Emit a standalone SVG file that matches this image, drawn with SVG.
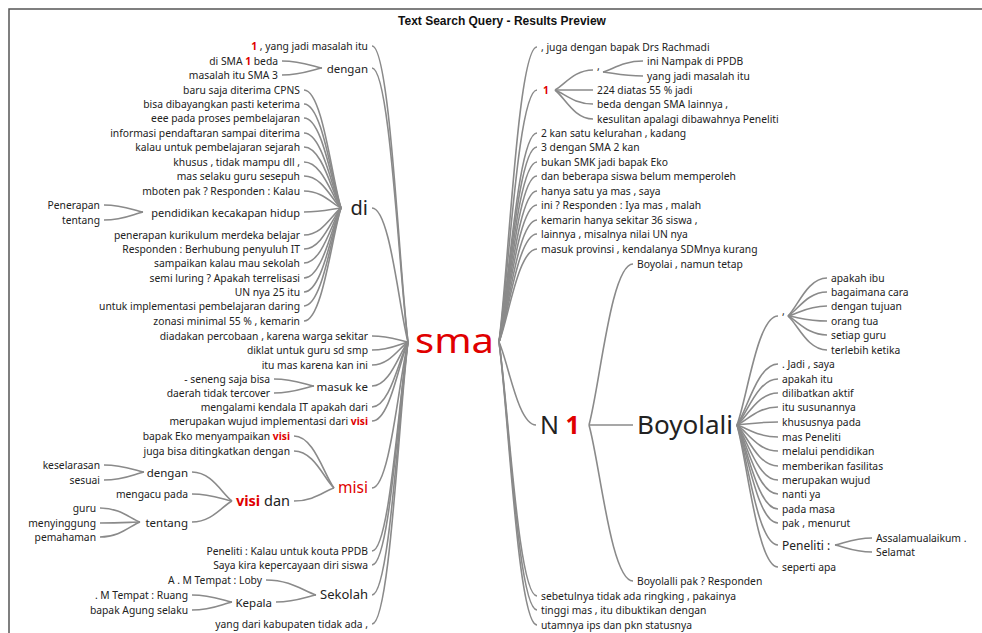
<svg xmlns="http://www.w3.org/2000/svg" width="982" height="633" viewBox="0 0 982 633">
<style>
text{font-family:"Noto Sans","Open Sans",sans-serif;fill:#222;dominant-baseline:central}
.t{font-size:10.3px}
.m{font-size:11.5px}
.e{text-anchor:end}
.r{fill:#e00000;font-weight:bold}
.red{fill:#e00000}
.c path{fill:none;stroke:#8a8a8a;stroke-width:1.6}
.title{font-family:"Liberation Sans",Arial,sans-serif;font-weight:bold;font-size:12px;text-anchor:middle;fill:#111}
</style>
<rect width="982" height="633" fill="#fff"/>
<path d="M9,633 V9 H982" fill="none" stroke="#555" stroke-width="1.5"/>
<text class="title" x="502" y="21">Text Search Query - Results Preview</text>

<g id="connectors" class="c">
<!-- root left -->
<path d="M372,46 C390,46 399,268 408,342"/>
<path d="M372,68 C390,68 399,273.5 408,342"/>
<path d="M372,208 C390,208 399,308.5 408,342"/>
<path d="M372,336 C390,336 399,340.5 408,342"/>
<path d="M372,350 C390,350 399,344 408,342"/>
<path d="M372,365 C390,365 399,347.8 408,342"/>
<path d="M372,386 C390,386 399,353 408,342"/>
<path d="M372,407 C390,407 399,358.3 408,342"/>
<path d="M372,421 C390,421 399,361.8 408,342"/>
<path d="M372,488 C390,488 399,378.5 408,342"/>
<path d="M372,551 C390,551 399,394.3 408,342"/>
<path d="M372,565 C390,565 399,397.8 408,342"/>
<path d="M372,595 C390,595 399,405.3 408,342"/>
<path d="M372,624 C390,624 399,412.5 408,342"/>
<!-- dengan (top) -->
<path d="M282,61 C302,61 312,66.2 322,68"/>
<path d="M282,75 C302,75 312,69.8 322,68"/>
<!-- di -->
<path d="M304,90 C322.5,90 331.8,178.5 341,208"/>
<path d="M304,104 C322.5,104 331.8,182 341,208"/>
<path d="M304,118 C322.5,118 331.8,185.5 341,208"/>
<path d="M304,133 C322.5,133 331.8,189.2 341,208"/>
<path d="M304,147 C322.5,147 331.8,192.8 341,208"/>
<path d="M304,162 C322.5,162 331.8,196.5 341,208"/>
<path d="M304,176 C322.5,176 331.8,200 341,208"/>
<path d="M304,191 C322.5,191 331.8,203.8 341,208"/>
<path d="M304,212 C322.5,212 331.8,209 341,208"/>
<path d="M304,235 C322.5,235 331.8,214.8 341,208"/>
<path d="M304,249 C322.5,249 331.8,218.2 341,208"/>
<path d="M304,263 C322.5,263 331.8,221.8 341,208"/>
<path d="M304,278 C322.5,278 331.8,225.5 341,208"/>
<path d="M304,292 C322.5,292 331.8,229 341,208"/>
<path d="M304,306 C322.5,306 331.8,232.5 341,208"/>
<path d="M304,321 C322.5,321 331.8,236.2 341,208"/>
<!-- pendidikan kecakapan hidup -->
<path d="M104,205 C123.5,205 133.2,210.2 143,212"/>
<path d="M104,220 C123.5,220 133.2,214 143,212"/>
<!-- masuk ke -->
<path d="M274,379 C294,379 304,384.2 314,386"/>
<path d="M274,393 C294,393 304,387.8 314,386"/>
<!-- misi -->
<path d="M294,436 C314,436 324,475 334,488"/>
<path d="M294,451 C314,451 324,478.8 334,488"/>
<path d="M294,501 C314,501 324,491.2 334,488"/>
<!-- visi dan -->
<path d="M192,472 C212,472 222,493.8 232,501"/>
<path d="M192,494 C212,494 222,499.2 232,501"/>
<path d="M192,522 C212,522 222,506.2 232,501"/>
<!-- dengan (lower) -->
<path d="M104,465 C124,465 134,470.2 144,472"/>
<path d="M104,480 C124,480 134,474 144,472"/>
<!-- tentang -->
<path d="M100,508 C120,508 130,518.5 140,522"/>
<path d="M100,523 C120,523 130,522.2 140,522"/>
<path d="M100,537 C120,537 130,525.8 140,522"/>
<!-- Sekolah -->
<path d="M266,580 C291,580 303.5,591.2 316,595"/>
<path d="M276,602 C296,602 306,596.8 316,595"/>
<!-- Kepala -->
<path d="M192,595 C212,595 222,600.2 232,602"/>
<path d="M192,610 C212,610 222,604 232,602"/>
<!-- root right -->
<path d="M537,47 C518,47 508.5,268.2 499,342"/>
<path d="M537,90 C518,90 508.5,279 499,342"/>
<path d="M537,133 C518,133 508.5,289.8 499,342"/>
<path d="M537,147 C518,147 508.5,293.2 499,342"/>
<path d="M537,162 C518,162 508.5,297 499,342"/>
<path d="M537,176 C518,176 508.5,300.5 499,342"/>
<path d="M537,191 C518,191 508.5,304.2 499,342"/>
<path d="M537,205 C518,205 508.5,307.8 499,342"/>
<path d="M537,220 C518,220 508.5,311.5 499,342"/>
<path d="M537,234 C518,234 508.5,315 499,342"/>
<path d="M537,249 C518,249 508.5,318.8 499,342"/>
<path d="M536,425 C518,425 508.5,362.8 499,342"/>
<path d="M537,596 C518,596 508.5,405.5 499,342"/>
<path d="M537,610 C518,610 508.5,409 499,342"/>
<path d="M537,625 C518,625 508.5,412.8 499,342"/>
<!-- 1 -->
<path d="M593,70 C574,70 564.5,85 555,90"/>
<path d="M593,90 C574,90 564.5,90 555,90"/>
<path d="M593,104 C574,104 564.5,93.5 555,90"/>
<path d="M593,119 C574,119 564.5,97.2 555,90"/>
<!-- comma under 1 -->
<path d="M643,61 C623,61 613,69.2 603,72"/>
<path d="M643,76 C623,76 613,73 603,72"/>
<!-- N 1 -->
<path d="M633,264 C611,264 600,384.8 589,425"/>
<path d="M633,425 C611,425 600,425 589,425"/>
<path d="M633,581 C611,581 600,464 589,425"/>
<!-- Boyolali -->
<path d="M778,316 C757.5,316 747.2,397.8 737,425"/>
<path d="M778,364 C757.5,364 747.2,409.8 737,425"/>
<path d="M778,379 C757.5,379 747.2,413.5 737,425"/>
<path d="M778,393 C757.5,393 747.2,417 737,425"/>
<path d="M778,407 C757.5,407 747.2,420.5 737,425"/>
<path d="M778,422 C757.5,422 747.2,424.2 737,425"/>
<path d="M778,437 C757.5,437 747.2,428 737,425"/>
<path d="M778,451 C757.5,451 747.2,431.5 737,425"/>
<path d="M778,466 C757.5,466 747.2,435.2 737,425"/>
<path d="M778,480 C757.5,480 747.2,438.8 737,425"/>
<path d="M778,494 C757.5,494 747.2,442.2 737,425"/>
<path d="M778,509 C757.5,509 747.2,446 737,425"/>
<path d="M778,523 C757.5,523 747.2,449.5 737,425"/>
<path d="M778,545 C757.5,545 747.2,455 737,425"/>
<path d="M778,567 C757.5,567 747.2,460.5 737,425"/>
<!-- comma under Boyolali -->
<path d="M827,278 C807.5,278 797.8,306.5 788,316"/>
<path d="M827,292 C807.5,292 797.8,310 788,316"/>
<path d="M827,306 C807.5,306 797.8,313.5 788,316"/>
<path d="M827,321 C807.5,321 797.8,317.2 788,316"/>
<path d="M827,335 C807.5,335 797.8,320.8 788,316"/>
<path d="M827,350 C807.5,350 797.8,324.5 788,316"/>
<!-- Peneliti : -->
<path d="M872,538 C853.5,538 844.2,543.2 835,545"/>
<path d="M872,552 C853.5,552 844.2,546.8 835,545"/>
</g>

<!-- root -->
<g id="n-sma"><text x="415" y="340" font-size="34" class="red" textLength="79" lengthAdjust="spacingAndGlyphs">sma</text></g>

<!-- left side -->
<g id="n-l-1yang"><text class="t e" x="368" y="46"><tspan class="r">1</tspan> , yang jadi masalah itu</text></g>
<g id="n-l-dengan1"><text class="m e" x="368" y="68">dengan</text></g>
<g id="n-l-dismabeda"><text class="t e" x="278" y="61">di SMA <tspan class="r">1</tspan> beda</text></g>
<g id="n-l-masalahsma3"><text class="t e" x="278" y="75">masalah itu SMA 3</text></g>
<g id="n-l-di"><text class="e" x="368" y="207" font-size="20">di</text></g>
<g id="n-l-di-children">
<text class="t e" x="300" y="90">baru saja diterima CPNS</text>
<text class="t e" x="300" y="104">bisa dibayangkan pasti keterima</text>
<text class="t e" x="300" y="118">eee pada proses pembelajaran</text>
<text class="t e" x="300" y="133">informasi pendaftaran sampai diterima</text>
<text class="t e" x="300" y="147">kalau untuk pembelajaran sejarah</text>
<text class="t e" x="300" y="162">khusus , tidak mampu dll ,</text>
<text class="t e" x="300" y="176">mas selaku guru sesepuh</text>
<text class="t e" x="300" y="191">mboten pak ? Responden : Kalau</text>
<text class="t e" x="300" y="235">penerapan kurikulum merdeka belajar</text>
<text class="t e" x="300" y="249">Responden : Berhubung penyuluh IT</text>
<text class="t e" x="300" y="263">sampaikan kalau mau sekolah</text>
<text class="t e" x="300" y="278">semi luring ? Apakah terrelisasi</text>
<text class="t e" x="300" y="292">UN nya 25 itu</text>
<text class="t e" x="300" y="306">untuk implementasi pembelajaran daring</text>
<text class="t e" x="300" y="321">zonasi minimal 55 % , kemarin</text>
</g>
<g id="n-l-pendidikan"><text class="e" x="300" y="212" font-size="11">pendidikan kecakapan hidup</text></g>
<g id="n-l-penerapan"><text class="t e" x="100" y="205">Penerapan</text></g>
<g id="n-l-tentang1"><text class="t e" x="100" y="220">tentang</text></g>
<g id="n-l-leaves-mid">
<text class="t e" x="368" y="336">diadakan percobaan , karena warga sekitar</text>
<text class="t e" x="368" y="350">diklat untuk guru sd smp</text>
<text class="t e" x="368" y="365">itu mas karena kan ini</text>
<text class="t e" x="368" y="407">mengalami kendala IT apakah dari</text>
<text class="t e" x="368" y="421">merupakan wujud implementasi dari <tspan class="r">visi</tspan></text>
</g>
<g id="n-l-masukke"><text class="m e" x="368" y="386">masuk ke</text></g>
<g id="n-l-seneng"><text class="t e" x="270" y="379">- seneng saja bisa</text></g>
<g id="n-l-daerah"><text class="t e" x="270" y="393">daerah tidak tercover</text></g>
<g id="n-l-misi"><text class="e red" x="368" y="487" font-size="15.5">misi</text></g>
<g id="n-l-bapakeko"><text class="t e" x="290" y="436">bapak Eko menyampaikan <tspan class="r">visi</tspan></text></g>
<g id="n-l-juga"><text class="t e" x="290" y="451">juga bisa ditingkatkan dengan</text></g>
<g id="n-l-visidan"><text class="e" x="290" y="500" font-size="14.5"><tspan class="r">visi</tspan> dan</text></g>
<g id="n-l-dengan2"><text class="m e" x="188" y="472">dengan</text></g>
<g id="n-l-keselarasan"><text class="t e" x="100" y="465">keselarasan</text></g>
<g id="n-l-sesuai"><text class="t e" x="100" y="480">sesuai</text></g>
<g id="n-l-mengacu"><text class="t e" x="188" y="494">mengacu pada</text></g>
<g id="n-l-tentang2"><text class="m e" x="188" y="522">tentang</text></g>
<g id="n-l-guru"><text class="t e" x="96" y="508">guru</text></g>
<g id="n-l-menyinggung"><text class="t e" x="96" y="523">menyinggung</text></g>
<g id="n-l-pemahaman"><text class="t e" x="96" y="537">pemahaman</text></g>
<g id="n-l-peneliti"><text class="t e" x="368" y="551">Peneliti : Kalau untuk kouta PPDB</text></g>
<g id="n-l-saya"><text class="t e" x="368" y="565">Saya kira kepercayaan diri siswa</text></g>
<g id="n-l-sekolah"><text class="e" x="368" y="594" font-size="13">Sekolah</text></g>
<g id="n-l-loby"><text class="t e" x="262" y="580">A . M Tempat : Loby</text></g>
<g id="n-l-kepala"><text class="m e" x="272" y="602">Kepala</text></g>
<g id="n-l-ruang"><text class="t e" x="188" y="595">. M Tempat : Ruang</text></g>
<g id="n-l-agung"><text class="t e" x="188" y="610">bapak Agung selaku</text></g>
<g id="n-l-kabupaten"><text class="t e" x="368" y="624">yang dari kabupaten tidak ada ,</text></g>

<!-- right side -->
<g id="n-r-leaves">
<text class="t" x="541" y="47">, juga dengan bapak Drs Rachmadi</text>
<text class="t" x="541" y="133">2 kan satu kelurahan , kadang</text>
<text class="t" x="541" y="147">3 dengan SMA 2 kan</text>
<text class="t" x="541" y="162">bukan SMK jadi bapak Eko</text>
<text class="t" x="541" y="176">dan beberapa siswa belum memperoleh</text>
<text class="t" x="541" y="191">hanya satu ya mas , saya</text>
<text class="t" x="541" y="205">ini ? Responden : Iya mas , malah</text>
<text class="t" x="541" y="220">kemarin hanya sekitar 36 siswa ,</text>
<text class="t" x="541" y="234">lainnya , misalnya nilai UN nya</text>
<text class="t" x="541" y="249">masuk provinsi , kendalanya SDMnya kurang</text>
<text class="t" x="541" y="596">sebetulnya tidak ada ringking , pakainya</text>
<text class="t" x="541" y="610">tinggi mas , itu dibuktikan dengan</text>
<text class="t" x="541" y="625">utamnya ips dan pkn statusnya</text>
</g>
<g id="n-r-1"><text class="t r" x="543" y="90">1</text></g>
<g id="n-r-1-comma"><text class="t" x="597" y="66">,</text></g>
<g id="n-r-1-children">
<text class="t" x="647" y="61">ini Nampak di PPDB</text>
<text class="t" x="647" y="76">yang jadi masalah itu</text>
<text class="t" x="597" y="90">224 diatas 55 % jadi</text>
<text class="t" x="597" y="104">beda dengan SMA lainnya ,</text>
<text class="t" x="597" y="119">kesulitan apalagi dibawahnya Peneliti</text>
</g>
<g id="n-r-n1"><text x="540" y="424" font-size="25">N <tspan class="r">1</tspan></text></g>
<g id="n-r-boyolai"><text class="t" x="637" y="264">Boyolai , namun tetap</text></g>
<g id="n-r-boyolali"><text x="637" y="424" font-size="25" textLength="96" lengthAdjust="spacingAndGlyphs">Boyolali</text></g>
<g id="n-r-boyolalli"><text class="t" x="637" y="581">Boyolalli pak ? Responden</text></g>
<g id="n-r-b-comma"><text class="t" x="782" y="311">,</text></g>
<g id="n-r-comma-children">
<text class="t" x="831" y="278">apakah ibu</text>
<text class="t" x="831" y="292">bagaimana cara</text>
<text class="t" x="831" y="306">dengan tujuan</text>
<text class="t" x="831" y="321">orang tua</text>
<text class="t" x="831" y="335">setiap guru</text>
<text class="t" x="831" y="350">terlebih ketika</text>
</g>
<g id="n-r-b-children">
<text class="t" x="782" y="364">. Jadi , saya</text>
<text class="t" x="782" y="379">apakah itu</text>
<text class="t" x="782" y="393">dilibatkan aktif</text>
<text class="t" x="782" y="407">itu susunannya</text>
<text class="t" x="782" y="422">khususnya pada</text>
<text class="t" x="782" y="437">mas Peneliti</text>
<text class="t" x="782" y="451">melalui pendidikan</text>
<text class="t" x="782" y="466">memberikan fasilitas</text>
<text class="t" x="782" y="480">merupakan wujud</text>
<text class="t" x="782" y="494">nanti ya</text>
<text class="t" x="782" y="509">pada masa</text>
<text class="t" x="782" y="523">pak , menurut</text>
<text class="t" x="782" y="567">seperti apa</text>
</g>
<g id="n-r-peneliti"><text x="782" y="545" font-size="12">Peneliti :</text></g>
<g id="n-r-assalam"><text class="t" x="876" y="538">Assalamualaikum .</text></g>
<g id="n-r-selamat"><text class="t" x="876" y="552">Selamat</text></g>
</svg>
